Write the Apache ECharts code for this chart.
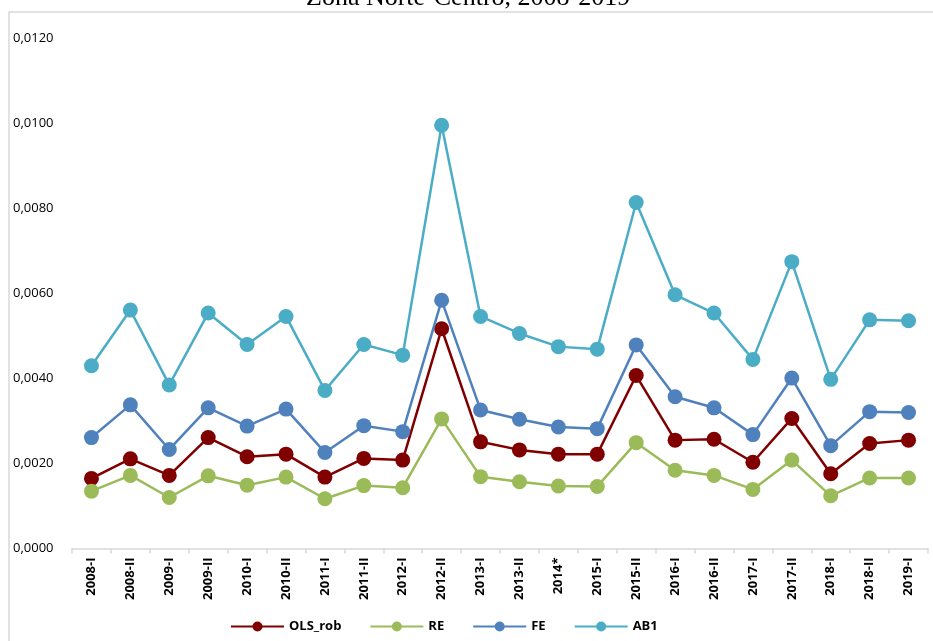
<!DOCTYPE html>
<html>
<head>
<meta charset="utf-8">
<script src="https://cdn.jsdelivr.net/npm/echarts@6/dist/echarts.min.js"></script>
<style>
  html, body { margin: 0; padding: 0; background: #ffffff; }
  #chart { width: 933px; height: 641px; }
</style>
</head>
<body>
<div id="chart"></div>
<script>
// Semesters along the horizontal axis
const categories = ['2008-I','2008-II','2009-I','2009-II','2010-I','2010-II','2011-I','2011-II','2012-I','2012-II','2013-I','2013-II','2014*','2015-I','2015-II','2016-I','2016-II','2017-I','2017-II','2018-I','2018-II','2019-I'];

// Estimates per model
const olsRob = [0.00165, 0.00211, 0.00172, 0.00261, 0.00216, 0.00222, 0.00168, 0.00212, 0.00208, 0.00517, 0.00251, 0.00232, 0.00222, 0.00222, 0.00407, 0.00255, 0.00257, 0.00203, 0.00306, 0.00176, 0.00247, 0.00255];
const re     = [0.00135, 0.00172, 0.00120, 0.00171, 0.00149, 0.00168, 0.00117, 0.00148, 0.00143, 0.00305, 0.00169, 0.00157, 0.00147, 0.00146, 0.00249, 0.00184, 0.00172, 0.00139, 0.00208, 0.00124, 0.00166, 0.00166];
const fe     = [0.00261, 0.00338, 0.00233, 0.00331, 0.00288, 0.00328, 0.00226, 0.00289, 0.00275, 0.00584, 0.00326, 0.00304, 0.00286, 0.00282, 0.00479, 0.00357, 0.00331, 0.00268, 0.00401, 0.00242, 0.00322, 0.00320];
const ab1    = [0.00430, 0.00561, 0.00385, 0.00554, 0.00480, 0.00546, 0.00372, 0.00480, 0.00455, 0.00996, 0.00546, 0.00506, 0.00475, 0.00469, 0.00814, 0.00597, 0.00554, 0.00445, 0.00675, 0.00398, 0.00538, 0.00536];

const seriesNames = ['OLS_rob', 'RE', 'FE', 'AB1'];
const seriesData = [olsRob, re, fe, ab1];
const colors = ['#800000', '#9BBB59', '#4F81BD', '#4BACC6'];

const chart = echarts.init(document.getElementById('chart'), null, { renderer: 'canvas' });

const option = {
  animation: false,
  backgroundColor: '#ffffff',
  color: colors,
  title: {
    text: 'Zona Norte-Centro, 2008-2019',
    left: 306,
    top: -15,
    padding: 0,
    textStyle: {
      fontFamily: 'Liberation Serif',
      fontSize: 26,
      fontWeight: 'normal',
      color: '#000000'
    }
  },
  graphic: [{
    type: 'rect',
    silent: true,
    z: -1,
    shape: { x: 9, y: 12, width: 1000, height: 1000 },
    style: { fill: 'none', stroke: '#D9D9D9', lineWidth: 1.5 }
  }],
  legend: {
    left: 230,
    top: 620,
    padding: 0,
    itemWidth: 53,
    itemHeight: 12.5,
    itemGap: 28,
    textStyle: {
      fontFamily: 'Open Sans',
      fontSize: 13,
      fontWeight: 'bold',
      color: '#000000'
    },
    data: seriesNames
  },
  grid: {
    left: 72,
    right: 5,
    top: 38.5,
    bottom: 92.5,
    containLabel: false
  },
  xAxis: {
    type: 'category',
    data: categories,
    boundaryGap: true,
    axisLine: { show: true, lineStyle: { color: '#D9D9D9', width: 1.5 } },
    axisTick: { show: true, length: 5, lineStyle: { color: '#D9D9D9', width: 1.5 } },
    axisLabel: {
      interval: 0,
      rotate: 90,
      margin: 9,
      fontFamily: 'Open Sans',
      fontSize: 13,
      fontWeight: 'bold',
      color: '#000000'
    },
    splitLine: { show: false }
  },
  yAxis: {
    type: 'value',
    min: 0,
    max: 0.012,
    interval: 0.002,
    axisLine: { show: false },
    axisTick: { show: false },
    splitLine: { show: false },
    axisLabel: {
      align: 'left',
      margin: 59,
      fontFamily: 'Open Sans',
      fontSize: 13,
      color: '#000000',
      formatter: v => v.toFixed(4).replace('.', ',')
    }
  },
  series: seriesNames.map((name, i) => ({
    name: name,
    type: 'line',
    data: seriesData[i],
    symbol: 'circle',
    symbolSize: 15,
    lineStyle: { width: 2.5, color: colors[i] },
    itemStyle: { color: colors[i] },
    z: 2 + i
  }))
};

chart.setOption(option);
</script>
</body>
</html>
